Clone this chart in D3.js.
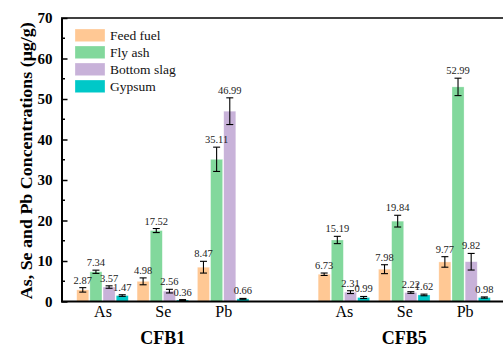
<!DOCTYPE html>
<html><head><meta charset="utf-8">
<script src="https://cdn.jsdelivr.net/npm/d3@7"></script>
<style>body{margin:0;background:#fff}svg{display:block}svg text{font-family:"Liberation Serif","Times New Roman",serif}</style>
</head><body>
<svg id="c" width="503" height="344"></svg>
<script>
const categories = ["As","Se","Pb","As","Se","Pb"];
const positions = [1,2,3,5,6,7];
const groups = ["CFB1","CFB5"];
const groupPositions = [2,6];
const seriesNames = ["Feed fuel","Fly ash","Bottom slag","Gypsum"];
const seriesColors = ["#FFC894","#82D89C","#C8B2D9","#00C8C8"];
const feedFuel = [2.87,4.98,8.47,6.73,7.98,9.77];
const flyAsh = [7.34,17.52,35.11,15.19,19.84,52.99];
const bottomSlag = [3.57,2.56,46.99,2.31,2.22,9.82];
const gypsum = [1.47,0.36,0.66,0.99,1.62,0.98];
const feedFuelErr = [0.55,0.85,1.45,0.3,1.1,1.3];
const flyAshErr = [0.4,0.5,3.0,0.9,1.45,2.15];
const bottomSlagErr = [0.3,0.45,3.3,0.35,0.2,2.05];
const gypsumErr = [0.2,0.1,0.1,0.25,0.2,0.15];
const yTicks = [0,10,20,30,40,50,60,70];
const yMinorTicks = [5,15,25,35,45,55,65];

const values = [feedFuel, flyAsh, bottomSlag, gypsum];
const errs = [feedFuelErr, flyAshErr, bottomSlagErr, gypsumErr];

const svg = d3.select("#c");
const serif = '"Liberation Serif","Times New Roman",serif';
const x = d3.scaleLinear().domain([1,7]).range([102.5,464.6]);
const y = d3.scaleLinear().domain([0,70]).range([301.5,18]);
const unit = x(2)-x(1);
const barW = 0.2*unit, step = 0.218*unit;

const data = [];
values.forEach((arr,si)=>arr.forEach((v,i)=>data.push({si, i, v, e: errs[si][i], cx: x(positions[i]) + (si-1.5)*step})));

// bars
svg.append("g").selectAll("rect").data(data).join("rect")
  .attr("x", d=>d.cx-barW/2).attr("width", barW)
  .attr("y", d=>y(d.v)).attr("height", d=>y(0)-y(d.v))
  .attr("fill", d=>seriesColors[d.si])
  .attr("stroke", "#ffffff").attr("stroke-opacity",0.5).attr("stroke-width",0.6);

// error bars
const eg = svg.append("g").attr("stroke","#000").attr("stroke-width",1.1);
data.forEach(d=>{
  const top = y(d.v+d.e), bot = y(Math.max(0,d.v-d.e));
  eg.append("line").attr("x1",d.cx).attr("x2",d.cx).attr("y1",top).attr("y2",bot);
  eg.append("line").attr("x1",d.cx-3.5).attr("x2",d.cx+3.5).attr("y1",top).attr("y2",top);
  eg.append("line").attr("x1",d.cx-3.5).attr("x2",d.cx+3.5).attr("y1",bot).attr("y2",bot);
});

// value labels
svg.append("g").selectAll("text").data(data).join("text")
  .attr("x", d=>d.cx).attr("y", d=>y(d.v+d.e)-4)
  .attr("text-anchor","middle").style("font-family",serif).style("font-size","10.5px")
  .attr("fill","#222").text(d=>d.v.toFixed(2));

// y axis
const yAxis = d3.axisLeft(y).tickValues(yTicks).tickSizeInner(-6).tickSizeOuter(0).tickPadding(9).tickFormat(d3.format("d"));
const ya = svg.append("g").attr("transform","translate(61.5,0)").call(yAxis);
ya.attr("font-family",null);
ya.select(".domain").attr("stroke","#000").attr("stroke-width",2);
ya.selectAll(".tick line").attr("stroke","#000").attr("stroke-width",1.5);
ya.selectAll(".tick text").style("font-family",serif).style("font-weight","bold").style("font-size","15px").attr("fill","#000");
svg.append("g").selectAll("line").data(yMinorTicks).join("line")
  .attr("x1",61.5).attr("x2",65).attr("y1",d=>y(d)).attr("y2",d=>y(d)).attr("stroke","#000").attr("stroke-width",1.5);

// x axis
const xa = svg.append("g").attr("transform",`translate(0,${y(0)})`)
  .call(d3.axisBottom(x).tickValues(positions).tickSize(0).tickPadding(4).tickFormat((d,i)=>categories[i]));
xa.attr("font-family",null);
xa.select(".domain").remove();
svg.append("line").attr("x1",61).attr("x2",503).attr("y1",y(0)).attr("y2",y(0)).attr("stroke","#000").attr("stroke-width",2.2);
xa.selectAll(".tick text").style("font-family",serif).style("font-size","16px").attr("fill","#000").attr("dy","0.71em");

// top frame line
svg.append("line").attr("x1",61).attr("x2",503).attr("y1",y(70)).attr("y2",y(70)).attr("stroke","#000").attr("stroke-width",1.6);

// group labels
svg.append("g").selectAll("text").data(groups).join("text")
  .attr("x",(d,i)=>x(groupPositions[i])).attr("y",343.5)
  .attr("text-anchor","middle").style("font-family",serif).style("font-weight","bold").style("font-size","18px").text(d=>d);

// y title
svg.append("text").attr("transform",`translate(31.5,${(y(0)+y(70))/2+1}) rotate(-90)`)
  .attr("text-anchor","middle").style("font-family",serif).style("font-weight","bold").style("font-size","16px")
  .attr("textLength",277).attr("lengthAdjust","spacingAndGlyphs")
  .text("As, Se and Pb Concentrations (μg/g)");

// legend
const lg = svg.append("g").attr("transform","translate(75,29)");
seriesNames.forEach((n,i)=>{
  const g = lg.append("g").attr("transform",`translate(0,${i*17})`);
  g.append("rect").attr("width",30).attr("height",12.7).attr("fill",seriesColors[i]).attr("stroke","#fff").attr("stroke-opacity",0.5).attr("stroke-width",0.6);
  g.append("text").attr("x",35).attr("y",10.5).style("font-family",serif).style("font-size","13.5px").attr("fill","#111").text(n);
});
</script>
</body></html>
